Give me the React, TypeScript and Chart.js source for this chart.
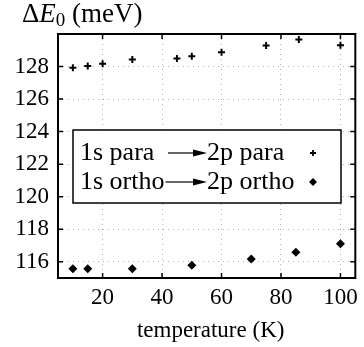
import { useEffect, useRef } from "react";
import { Chart, registerables } from "chart.js";

Chart.register(...registerables);

// Transition energies versus temperature
const paraTemperatures = [10, 15, 20, 30, 45, 50, 60, 75, 86, 100];
const paraEnergies = [127.92, 128.04, 128.17, 128.43, 128.49, 128.63, 128.88, 129.29, 129.66, 129.31];
const orthoTemperatures = [10, 15, 30, 50, 70, 85, 100];
const orthoEnergies = [115.57, 115.57, 115.57, 115.78, 116.17, 116.58, 117.1];

const xTickValues = [20, 40, 60, 80, 100];
const yTickValues = [116, 118, 120, 122, 124, 126, 128];

const legendRows = [
  { from: "1s para", to: "2p para", style: "cross" },
  { from: "1s ortho", to: "2p ortho", style: "diamond" },
];

const SERIF = '"Liberation Serif", "Times New Roman", serif';

function drawArrow(ctx: CanvasRenderingContext2D, x0: number, x1: number, y: number) {
  ctx.beginPath();
  ctx.moveTo(x0, y);
  ctx.lineTo(x1 - 10, y);
  ctx.lineWidth = 1.2;
  ctx.strokeStyle = "#000";
  ctx.stroke();
  ctx.beginPath();
  ctx.moveTo(x1, y);
  ctx.lineTo(x1 - 14, y - 3.5);
  ctx.lineTo(x1 - 14, y + 3.5);
  ctx.closePath();
  ctx.fillStyle = "#000";
  ctx.fill();
}

const decorPlugin = {
  id: "decor",
  afterDraw(chart: any) {
    const { ctx, chartArea: a, scales } = chart;
    const xs = scales.x;
    const ys = scales.y;
    ctx.save();

    // legend box
    const bx = 73, by = 130, bw = 268, bh = 73;
    ctx.fillStyle = "#fff";
    ctx.fillRect(bx, by, bw, bh);
    ctx.lineWidth = 1.5;
    ctx.strokeStyle = "#000";
    ctx.strokeRect(bx, by, bw, bh);

    ctx.font = `26px ${SERIF}`;
    ctx.fillStyle = "#000";
    ctx.textBaseline = "alphabetic";
    ctx.textAlign = "left";
    const baselines = [160, 189];
    legendRows.forEach((row, i) => {
      const yb = baselines[i];
      ctx.fillStyle = "#000";
      ctx.fillText(row.from, 80, yb);
      const w = ctx.measureText(row.from).width;
      const start = i === 0 ? 168 : 80 + w + 1;
      drawArrow(ctx, start, 207, yb - 7);
      ctx.fillStyle = "#000";
      ctx.fillText(row.to, 207, yb);
      const my = yb - 7;
      const mx = 313;
      if (row.style === "cross") {
        ctx.beginPath();
        ctx.moveTo(mx - 3, my);
        ctx.lineTo(mx + 3, my);
        ctx.moveTo(mx, my - 3);
        ctx.lineTo(mx, my + 3);
        ctx.lineWidth = 1.8;
        ctx.stroke();
      } else {
        ctx.beginPath();
        ctx.moveTo(mx, my - 4);
        ctx.lineTo(mx + 4, my);
        ctx.lineTo(mx, my + 4);
        ctx.lineTo(mx - 4, my);
        ctx.closePath();
        ctx.fill();
      }
    });

    // frame
    ctx.lineWidth = 2;
    ctx.strokeStyle = "#000";
    ctx.strokeRect(a.left, a.top, a.right - a.left, a.bottom - a.top);

    // inward tick marks on all four sides
    ctx.lineWidth = 1.5;
    ctx.beginPath();
    xTickValues.forEach((v) => {
      const px = xs.getPixelForValue(v);
      ctx.moveTo(px, a.bottom);
      ctx.lineTo(px, a.bottom - 5);
      ctx.moveTo(px, a.top);
      ctx.lineTo(px, a.top + 5);
    });
    yTickValues.forEach((v) => {
      const py = ys.getPixelForValue(v);
      ctx.moveTo(a.left, py);
      ctx.lineTo(a.left + 5, py);
      ctx.moveTo(a.right, py);
      ctx.lineTo(a.right - 5, py);
    });
    ctx.stroke();

    // y-axis title: ΔE0 (meV)
    ctx.fillStyle = "#000";
    let x = 22;
    const yt = 22;
    ctx.font = `27px ${SERIF}`;
    ctx.fillText("Δ", x, yt);
    x += ctx.measureText("Δ").width;
    ctx.font = `italic 27px ${SERIF}`;
    ctx.fillText("E", x, yt);
    x += ctx.measureText("E").width;
    ctx.font = `19px ${SERIF}`;
    ctx.fillText("0", x, yt + 4);
    x += ctx.measureText("0").width;
    ctx.font = `27px ${SERIF}`;
    ctx.fillText(" (meV)", x, yt);

    // x-axis title
    ctx.font = `23px ${SERIF}`;
    ctx.textAlign = "center";
    ctx.fillText("temperature (K)", (a.left + a.right) / 2 + 4, 337);
    ctx.restore();
  },
};

export default function App() {
  const canvasRef = useRef<HTMLCanvasElement | null>(null);

  useEffect(() => {
    const canvas = canvasRef.current;
    if (!canvas) return;
    const chart = new Chart(canvas, {
      type: "scatter",
      data: {
        datasets: [
          {
            label: "1s para → 2p para",
            data: paraTemperatures.map((t, i) => ({ x: t, y: paraEnergies[i] })),
            pointStyle: "cross",
            pointRadius: 3.5,
            pointBorderWidth: 2,
            borderColor: "#000",
            backgroundColor: "#000",
          },
          {
            label: "1s ortho → 2p ortho",
            data: orthoTemperatures.map((t, i) => ({ x: t, y: orthoEnergies[i] })),
            pointStyle: "rectRot",
            pointRadius: 4.5,
            pointBorderWidth: 0,
            borderColor: "#000",
            backgroundColor: "#000",
          },
        ],
      },
      options: {
        animation: false,
        responsive: false,
        devicePixelRatio: 1,
        layout: { padding: { top: 34, right: 5, left: 0, bottom: 0 } },
        plugins: {
          legend: { display: false },
          tooltip: { enabled: false },
          title: { display: false },
        },
        scales: {
          x: {
            type: "linear",
            min: 5,
            max: 105,
            afterBuildTicks: (s: any) => {
              s.ticks = xTickValues.map((v) => ({ value: v }));
            },
            afterFit: (s: any) => {
              s.height = 69;
            },
            border: { display: false, dash: [1, 4] },
            grid: {
              drawTicks: false,
              color: "rgba(0,0,0,0.3)",
              lineWidth: 1,
            },
            ticks: {
              color: "#000",
              padding: 6,
              font: { family: SERIF, size: 23 },
              maxRotation: 0,
            },
          },
          y: {
            type: "linear",
            min: 115,
            max: 130,
            afterBuildTicks: (s: any) => {
              s.ticks = yTickValues.map((v) => ({ value: v }));
            },
            afterFit: (s: any) => {
              s.width = 58;
            },
            border: { display: false, dash: [1, 4] },
            grid: {
              drawTicks: false,
              color: "rgba(0,0,0,0.3)",
              lineWidth: 1,
            },
            ticks: {
              color: "#000",
              padding: 9,
              font: { family: SERIF, size: 23 },
            },
          },
        },
      },
      plugins: [decorPlugin],
    });
    return () => chart.destroy();
  }, []);

  return (
    <div style={{ position: "fixed", left: 0, top: 0, width: 364, height: 347, background: "#fff" }}>
      <canvas ref={canvasRef} width={364} height={347} style={{ display: "block" }} />
    </div>
  );
}
